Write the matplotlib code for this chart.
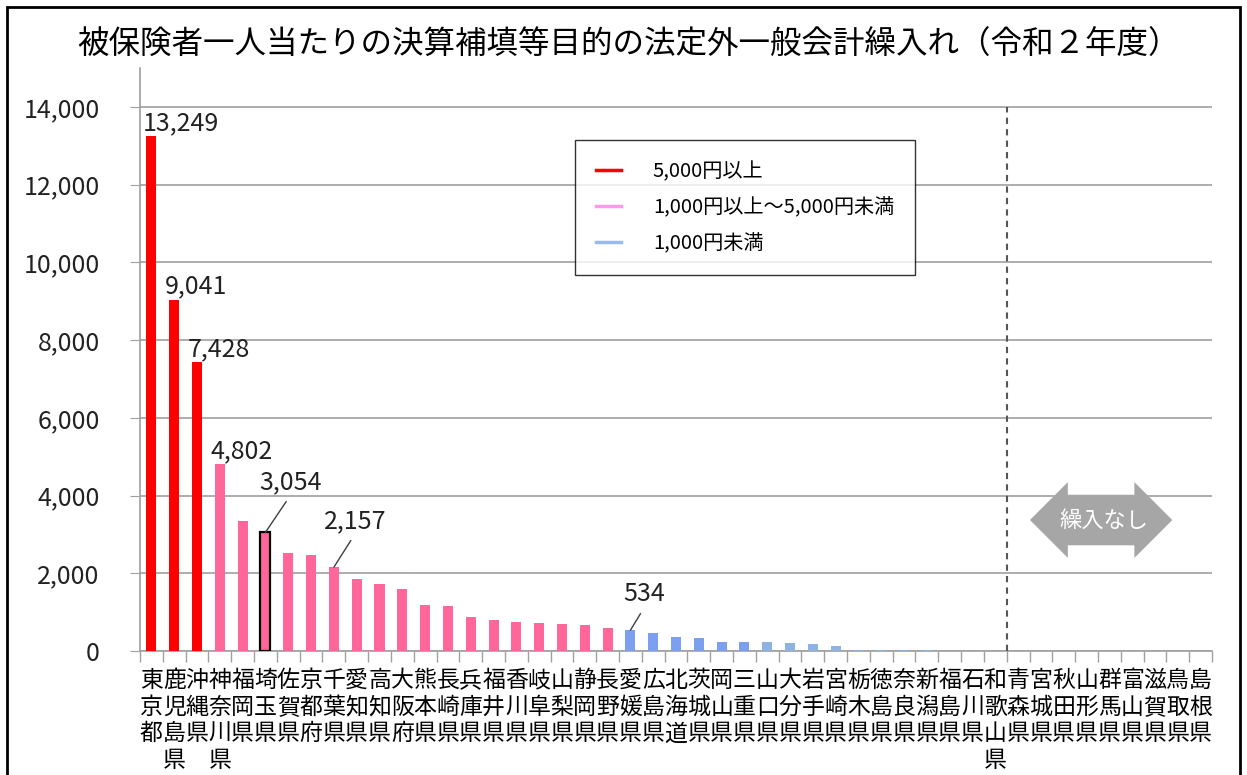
import matplotlib
matplotlib.use("Agg")
import matplotlib.pyplot as plt
from matplotlib.lines import Line2D
from matplotlib.patches import Rectangle

plt.rcParams['font.family'] = ['Noto Sans CJK JP', 'DejaVu Sans']

# prefectures with a transfer (sorted), then those without
names_with = ['東京都', '鹿児島県', '沖縄県', '神奈川県', '福岡県', '埼玉県', '佐賀県', '京都府',
              '千葉県', '愛知県', '高知県', '大阪府', '熊本県', '長崎県', '兵庫県', '福井県',
              '香川県', '岐阜県', '山梨県', '静岡県', '長野県', '愛媛県', '広島県', '北海道',
              '茨城県', '岡山県', '三重県', '山口県', '大分県', '岩手県', '宮崎県', '栃木県',
              '徳島県', '奈良県', '新潟県', '福島県', '石川県', '和歌山県']
values_with = [13249, 9041, 7428, 4802, 3340, 3054, 2510, 2480,
               2157, 1840, 1730, 1590, 1180, 1160, 870, 790,
               750, 720, 690, 670, 590, 534, 460, 350,
               330, 240, 240, 240, 210, 180, 120, 30,
               30, 30, 30, 8, 5, 2]
names_none = ['青森県', '宮城県', '秋田県', '山形県', '群馬県', '富山県', '滋賀県', '鳥取県', '島根県']
values_none = [0] * len(names_none)

labelled = ['東京都', '鹿児島県', '沖縄県', '神奈川県']
leader_labelled = {'埼玉県': (25, 37), '千葉県': (21, 33), '愛媛県': (14, 23)}

legend_labels = ['5,000円以上', '1,000円以上～5,000円未満', '1,000円未満']
title = '被保険者一人当たりの決算補填等目的の法定外一般会計繰入れ（令和２年度）'

names = names_with + names_none
values = values_with + values_none
n = len(names)

colors = (['#ff0000'] * 3 + ['#ff6699'] * 18 + ['#7d9ff0'] * 6
          + ['#8db3e2'] * (n - 27))

fig = plt.figure(figsize=(12.47, 7.75), dpi=100)
ax = fig.add_axes([140 / 1247, 1 - 651 / 775, 1072 / 1247, 583 / 775])

x = list(range(n))
bars = ax.bar(x, values, width=0.44, color=colors, zorder=3)
hi = names.index('埼玉県')
bars[hi].set_edgecolor('black')
bars[hi].set_linewidth(1.6)

px = 72 / 100
num_size = 18
for nm in labelled:
    i = names.index(nm)
    ax.annotate(f'{values[i]:,}', xy=(i - 0.22, values[i]), xytext=(-4 * px, 0),
                textcoords='offset points', ha='left', va='bottom', fontsize=num_size,
                color='#222222')
for nm, (dx, dy) in leader_labelled.items():
    i = names.index(nm)
    ax.annotate(f'{values[i]:,}', xy=(i, values[i]), xytext=(dx * px, dy * px),
                textcoords='offset points', ha='center', va='bottom', fontsize=num_size,
                color='#222222',
                arrowprops=dict(arrowstyle='-', color='#404040', lw=1, relpos=(0.5, 0),
                                shrinkA=3, shrinkB=0))

ax.set_xlim(-0.5, n - 0.5)
ax.set_ylim(0, 15000)
ax.set_yticks(range(0, 14001, 2000))
ax.set_yticklabels([f'{v:,}' for v in range(0, 14001, 2000)], fontsize=num_size, color='#222222')
ax.tick_params(axis='y', length=7, color='#a0a0a0', pad=22)
ax.grid(axis='y', color='#a0a0a0', lw=1.2, zorder=0)

ax.set_xticks(x)
ax.set_xticklabels(['\n'.join(s) for s in names], fontsize=16.5, linespacing=1.2)
ax.tick_params(axis='x', length=0, pad=13)
ax.set_xticks([i - 0.5 for i in range(n + 1)], minor=True)
ax.tick_params(axis='x', which='minor', length=8, color='#a0a0a0', width=1)

for s in ['top', 'right']:
    ax.spines[s].set_visible(False)
for s in ['left', 'bottom']:
    ax.spines[s].set_color('#a0a0a0')
    ax.spines[s].set_linewidth(1.2)

ax.axvline(len(names_with) - 0.5, ymin=0, ymax=14000 / 15000, color='#555555',
           lw=1.5, ls=(0, (3, 2.5)), zorder=4)

ax.text(41.75, 3370, '繰入なし', ha='center', va='center', fontsize=16, color='white',
        bbox=dict(boxstyle='darrow,pad=0.62', fc='#a6a6a6', ec='none'))

handles = [Line2D([], [], color=c, lw=2.5) for c in ['#ff0000', '#ff99ee', '#99bbee']]
leg = ax.legend(handles, legend_labels, loc='upper left', bbox_to_anchor=(0.406, 0.877),
                fontsize=14.5, frameon=True, fancybox=False, edgecolor='black',
                handlelength=1.2, handletextpad=1.6, labelspacing=0.75, borderpad=1.05,
                borderaxespad=0)
leg.get_frame().set_linewidth(1)

fig.text(0.504, 1 - 45 / 775, title, ha='center', va='center', fontsize=22.7)

fig.patches.append(Rectangle((7 / 1247, -0.02), 1233 / 1247, 1.02 - 7 / 775,
                             transform=fig.transFigure, fill=False, ec='black', lw=2))

plt.savefig('out.png', dpi=100)
